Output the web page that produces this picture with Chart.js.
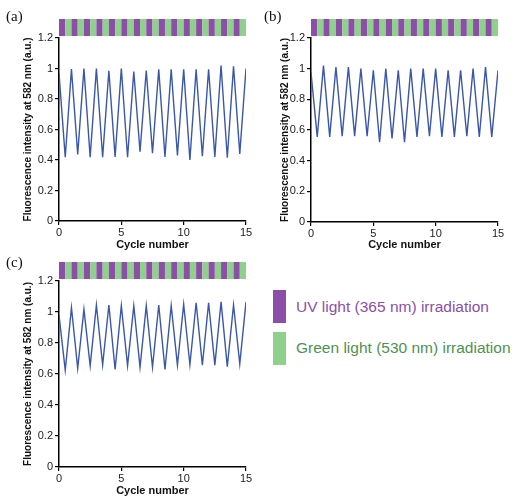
<!DOCTYPE html>
<html>
<head>
<meta charset="utf-8">
<script src="https://cdn.jsdelivr.net/npm/chart.js@4.4.1/dist/chart.umd.min.js"></script>
<style>
  body { margin: 0; background: #fff; }
  #wrap { position: relative; width: 517px; height: 496px; overflow: hidden; background: #fff; }
  canvas { position: absolute; }
  .lbl { position: absolute; font-family: "Liberation Serif", "Times New Roman", serif; font-size: 15px; color: #111; line-height: 1; }
  .swatch { position: absolute; width: 13px; height: 33px; }
  .legtxt { position: absolute; font-family: "Liberation Sans", Arial, sans-serif; font-size: 15.5px; line-height: 1; white-space: nowrap; }
</style>
</head>
<body>
<div id="wrap">
  <canvas id="chartA" width="258" height="250" style="left:0;top:0"></canvas>
  <canvas id="chartB" width="259" height="250" style="left:258px;top:0"></canvas>
  <canvas id="chartC" width="258" height="246" style="left:0;top:250px"></canvas>
  <div class="lbl" style="left:6px;top:9px">(a)</div>
  <div class="lbl" style="left:264px;top:9px">(b)</div>
  <div class="lbl" style="left:6px;top:255px">(c)</div>
  <div class="swatch" style="left:273px;top:290px;background:#8b4fa7"></div>
  <div class="swatch" style="left:273px;top:332px;background:#8fd08c"></div>
  <div class="legtxt" style="left:296px;top:299px;color:#8a4fa8">UV light (365 nm) irradiation</div>
  <div class="legtxt" style="left:296px;top:340px;color:#4f9151">Green light (530 nm) irradiation</div>
</div>
<script>
// half-cycle positions (peak at integer, trough at .5)
const cycleX = [0, 0.5, 1, 1.5, 2, 2.5, 3, 3.5, 4, 4.5, 5, 5.5, 6, 6.5, 7, 7.5,
                8, 8.5, 9, 9.5, 10, 10.5, 11, 11.5, 12, 12.5, 13, 13.5, 14, 14.5, 15];

const seriesA = [0.97, 0.418, 0.997, 0.437, 1.0, 0.418, 1.0, 0.418, 0.985, 0.42, 1.0, 0.418,
                 0.98, 0.454, 0.987, 0.445, 0.995, 0.42, 0.995, 0.43, 0.995, 0.40, 0.995, 0.425,
                 0.995, 0.42, 1.02, 0.415, 1.015, 0.44, 1.0];
const seriesB = [0.975, 0.555, 1.02, 0.555, 1.01, 0.56, 1.01, 0.56, 1.0, 0.56, 0.99, 0.52,
                 1.0, 0.545, 0.99, 0.52, 1.0, 0.555, 1.0, 0.56, 1.0, 0.555, 0.99, 0.555,
                 0.99, 0.56, 1.0, 0.555, 1.01, 0.555, 0.99];
const seriesC = [0.98, 0.625, 1.028, 0.637, 1.017, 0.652, 1.045, 0.658, 1.045, 0.63, 1.04, 0.654,
                 1.04, 0.643, 1.04, 0.643, 1.045, 0.63, 1.04, 0.657, 1.05, 0.66, 1.06, 0.657,
                 1.06, 0.657, 1.065, 0.648, 1.045, 0.665, 1.065];

// irradiation applied in each half cycle
const lightSeq = ['UV', 'Green', 'UV', 'Green', 'UV', 'Green', 'UV', 'Green', 'UV', 'Green',
                  'UV', 'Green', 'UV', 'Green', 'UV', 'Green', 'UV', 'Green', 'UV', 'Green',
                  'UV', 'Green', 'UV', 'Green', 'UV', 'Green', 'UV', 'Green', 'UV', 'Green'];
const lightColors = { UV: '#8b4fa7', Green: '#8fd08c' };

const yTicks = [0, 0.2, 0.4, 0.6, 0.8, 1, 1.2];
const xTicks = [0, 5, 10, 15];

const FONT = '"Liberation Sans", Arial, sans-serif';

// strip of coloured blocks above the plot, one per half cycle
const lightBar = {
    id: 'lightBar',
    afterDraw(chart) {
        const { ctx, chartArea, scales } = chart;
        const top = chartArea.top - 19;
        const h = 17;
        ctx.save();
        lightSeq.forEach((light, i) => {
            const x0 = scales.x.getPixelForValue(cycleX[i]);
            const x1 = scales.x.getPixelForValue(cycleX[i + 1]);
            ctx.fillStyle = lightColors[light];
            ctx.fillRect(x0, top, x1 - x0, h);
        });
        ctx.restore();
    }
};

function makePanel(id, values, lay) {
    const ctx = document.getElementById(id).getContext('2d');
    return new Chart(ctx, {
        type: 'line',
        data: {
            datasets: [{
                data: cycleX.map((x, i) => ({ x, y: values[i] })),
                borderColor: '#3a57a8',
                borderWidth: 1.4,
                pointRadius: 0,
                tension: 0,
                fill: false
            }]
        },
        options: {
            responsive: false,
            animation: false,
            layout: { padding: { top: lay.top, right: lay.right, left: 0, bottom: 0 } },
            plugins: { legend: { display: false }, tooltip: { enabled: false } },
            scales: {
                x: {
                    type: 'linear',
                    min: 0,
                    max: 15,
                    afterFit: (s) => { s.height = lay.xHeight; },
                    afterBuildTicks: (s) => { s.ticks = xTicks.map(v => ({ value: v })); },
                    border: { color: '#000', width: 1.5 },
                    grid: { drawOnChartArea: false, color: '#000', tickLength: 4, lineWidth: 1.2 },
                    ticks: {
                        color: '#222', padding: 1, maxRotation: 0,
                        font: { family: FONT, size: 11 },
                        callback: (v) => String(v)
                    },
                    title: {
                        display: true,
                        text: 'Cycle number',
                        color: '#111',
                        padding: 0,
                        font: { family: FONT, size: 11, weight: 'bold', lineHeight: 1 }
                    }
                },
                y: {
                    min: 0,
                    max: 1.2,
                    afterFit: (s) => { s.width = lay.yWidth; },
                    afterBuildTicks: (s) => { s.ticks = yTicks.map(v => ({ value: v })); },
                    border: { color: '#000', width: 1.5 },
                    grid: { drawOnChartArea: false, color: '#000', tickLength: 4, lineWidth: 1.2 },
                    ticks: {
                        color: '#222', padding: 2,
                        font: { family: FONT, size: 11 },
                        callback: (v) => String(Number(v.toFixed(1)))
                    },
                    title: {
                        display: true,
                        text: 'Fluorescence intensity at 582 nm (a.u.)',
                        color: '#111',
                        padding: { top: lay.titlePad, bottom: 0 },
                        font: { family: FONT, size: 10, weight: 'bold', lineHeight: 1 }
                    }
                }
            }
        },
        plugins: [lightBar]
    });
}

makePanel('chartA', seriesA, { top: 38, right: 12, yWidth: 59, xHeight: 29, titlePad: 23 });
makePanel('chartB', seriesB, { top: 38, right: 19, yWidth: 53, xHeight: 28, titlePad: 22 });
makePanel('chartC', seriesC, { top: 31, right: 12, yWidth: 59, xHeight: 29, titlePad: 23 });
</script>
</body>
</html>
